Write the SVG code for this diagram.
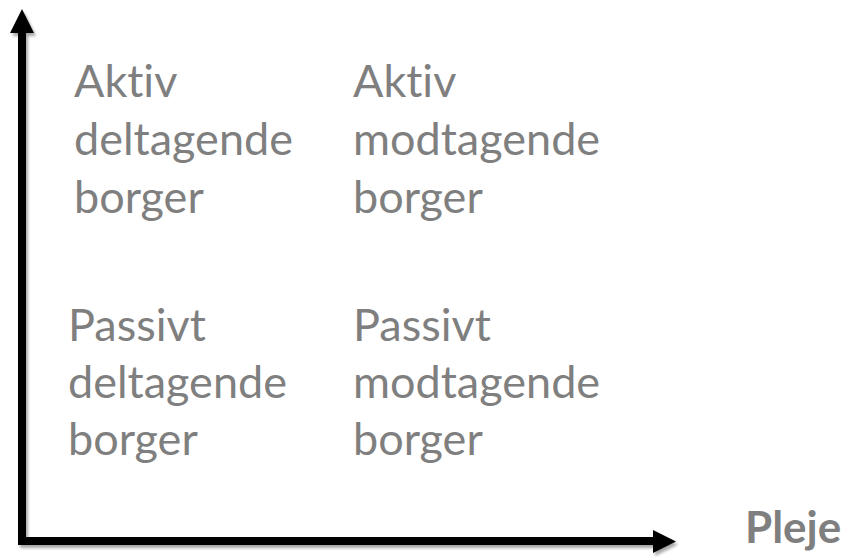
<svg xmlns="http://www.w3.org/2000/svg" width="842" height="557" viewBox="0 0 842 557">
  <style>
    text { font-variant-ligatures: none; font-feature-settings: "liga" 0, "dlig" 0; }
    .t { font-family: Lato, "Open Sans", "Liberation Sans", sans-serif; font-size: 45px; fill: #7f7f7f; }
    .b { font-family: Lato, "Open Sans", "Liberation Sans", sans-serif; font-size: 44px; font-weight: bold; fill: #7f7f7f; }
    .axis { fill: none; stroke: #000; stroke-width: 8; stroke-linejoin: miter; }
  </style>
  <defs>
    <filter id="sh" x="-10%" y="-10%" width="120%" height="120%">
      <feGaussianBlur in="SourceAlpha" stdDeviation="1.5"/>
      <feOffset dx="2" dy="3" result="o"/>
      <feComponentTransfer><feFuncA type="linear" slope="0.35"/></feComponentTransfer>
      <feMerge><feMergeNode/><feMergeNode in="SourceGraphic"/></feMerge>
    </filter>
  </defs>
  <rect width="842" height="557" fill="#fff"/>
  <g id="connectors" filter="url(#sh)">
    <path class="axis" d="M22,33 V541 H654"/>
    <polygon points="10,33 22,9 34,33" fill="#000"/>
    <polygon points="653,530 676,541.5 653,553" fill="#000"/>
  </g>
  <g id="aktiv-deltagende">
    <text class="t" x="74" y="97">Aktiv</text>
    <text class="t" x="74" y="155">deltagende</text>
    <text class="t" x="74" y="213">borger</text>
  </g>
  <g id="aktiv-modtagende">
    <text class="t" x="353" y="97">Aktiv</text>
    <text class="t" x="353" y="155">modtagende</text>
    <text class="t" x="353" y="213">borger</text>
  </g>
  <g id="passivt-deltagende">
    <text class="t" x="68" y="341">Passivt</text>
    <text class="t" x="68" y="398">deltagende</text>
    <text class="t" x="68" y="455">borger</text>
  </g>
  <g id="passivt-modtagende">
    <text class="t" x="353" y="341">Passivt</text>
    <text class="t" x="353" y="398">modtagende</text>
    <text class="t" x="353" y="455">borger</text>
  </g>
  <g id="pleje">
    <text class="b" x="745" y="543">Pleje</text>
  </g>
</svg>
